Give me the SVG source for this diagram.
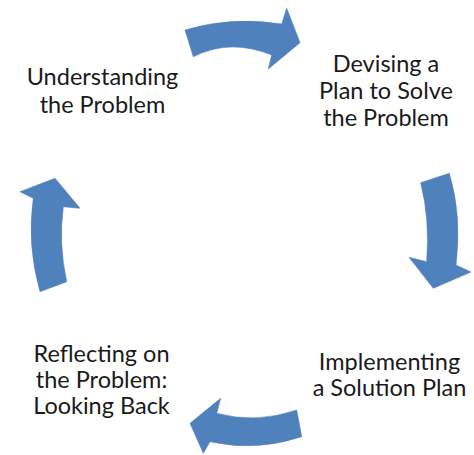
<svg xmlns="http://www.w3.org/2000/svg" width="474" height="455" viewBox="0 0 474 455">
<style>
.lbl{font-family:Lato,"Open Sans","Liberation Sans",sans-serif;font-size:23.5px;fill:#1a1a1a;text-anchor:middle}
.arr{fill:#4f81bd;stroke:#4f81bd;stroke-width:0.6;stroke-linejoin:round}
</style>
<rect width="474" height="455" fill="#ffffff"/>
<g id="connectors">
<path class="arr" d="M185,30 Q232,16 281.7,24 L286.7,8.3 L300,42.7 L268.3,69 L271.7,55 Q230,38 193.3,56.7 Z"/>
<path class="arr" d="M420.7,182.7 L449.3,173.3 Q462,215 456,265 L471,272 L433.3,288.3 L409,257.3 L426.7,261.7 Q430,220 420.7,182.7 Z"/>
<path class="arr" d="M296.7,410 L301.7,436.7 Q256,452 210,441.7 L203.3,453.3 L190,423.3 L220.7,398.3 L216.7,413.3 Q256,424 296.7,410 Z"/>
<path class="arr" d="M55,178.3 L80,208.3 L63.3,206.7 Q58.4,244 66.7,281.7 L40,291.7 Q26.7,245 33.3,198.3 L20,191.7 Z"/>
</g>
<g id="understanding">
<text class="lbl" x="102.5" y="84.5">Understanding</text>
<text class="lbl" x="102.5" y="113">the Problem</text>
</g>
<g id="devising">
<text class="lbl" x="386" y="71.5">Devising a</text>
<text class="lbl" x="386" y="99">Plan to Solve</text>
<text class="lbl" x="386" y="126">the Problem</text>
</g>
<g id="implementing">
<text class="lbl" x="389.5" y="369.5">Implementing</text>
<text class="lbl" x="389.5" y="396">a Solution Plan</text>
</g>
<g id="reflecting">
<text class="lbl" x="101.5" y="361.5">Reflecting on</text>
<text class="lbl" x="101.5" y="387.5">the Problem:</text>
<text class="lbl" x="101.5" y="413.5">Looking Back</text>
</g>
</svg>
